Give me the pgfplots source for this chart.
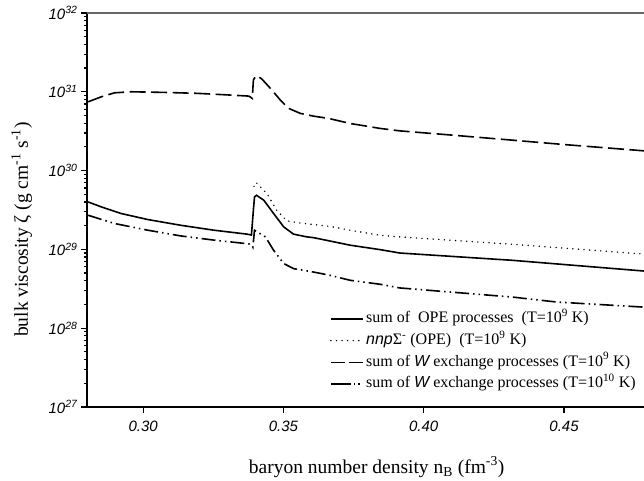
\documentclass[border=0pt]{standalone}
\usepackage{fontspec}
\setmainfont{Liberation Serif}
\setsansfont{Liberation Sans}
\usepackage{pgfplots}
\pgfplotsset{compat=1.18}
\begin{document}
\begin{tikzpicture}
\begin{axis}[
  scale only axis, width=557pt, height=394pt,
  xmin=0.28, xmax=0.4785,
  ymode=log, ymin=1e27, ymax=1e32,
  axis x line*=bottom, axis y line*=left,
  axis line style={line width=1.2pt, black},
  xtick={0.30,0.35,0.40,0.45},
  xticklabels={0.30,0.35,0.40,0.45},
  ytick={1e27,1e28,1e29,1e30,1e31,1e32},
  yticklabels={10\textsuperscript{27},10\textsuperscript{28},10\textsuperscript{29},10\textsuperscript{30},10\textsuperscript{31},10\textsuperscript{32}},
  minor ytick={},
  xtick align=outside, ytick align=outside,
  major tick length=6pt,
  tick style={line width=1.2pt, black},
  ticklabel style={font=\fontsize{15}{15}\selectfont\sffamily\itshape},
  xticklabel style={yshift=-5pt},
  xlabel={baryon number density n\textsubscript{B} (fm\textsuperscript{-3})},
  ylabel={bulk viscosity ζ (g cm\textsuperscript{-1} s\textsuperscript{-1})},
  label style={font=\fontsize{19.5}{19.5}\selectfont},
  xlabel style={at={(axis description cs:0.52,-0.152)}, anchor=center},
  ylabel style={at={(axis description cs:-0.117,0.45)}, anchor=center, rotate=0},
  legend image code/.code={\draw[#1] (0pt,0pt) -- (32pt,0pt);},
  legend style={at={(rel axis cs:0.436,0.245)}, anchor=north west, draw=none, fill=none,
    font=\fontsize{16}{16}\selectfont, row sep=5.2pt, column sep=0pt, inner sep=0pt,
    nodes={inner ysep=1pt, inner xsep=2.5pt, text height=11pt, text depth=3.5pt}},
  legend cell align=left,
  every axis plot/.append style={line width=1.6pt, black},
]
\draw[line width=1.2pt, black!60] (rel axis cs:0,1) -- (rel axis cs:1,1);

% sum of OPE processes (T=1e9 K)
\addplot[solid] coordinates {
(0.2804,4.00e29) (0.2851,3.46e29) (0.2922,2.85e29) (0.3017,2.39e29)
(0.3135,2.02e29) (0.3253,1.75e29) (0.3371,1.56e29) (0.3386,1.52e29)
(0.3393,3.16e29) (0.3397,4.63e29) (0.3404,4.86e29) (0.3430,4.21e29)
(0.3465,2.85e29) (0.3501,1.93e29) (0.3536,1.56e29) (0.3584,1.44e29)
(0.3607,1.41e29) (0.3738,1.13e29) (0.3844,9.93e28) (0.3915,8.99e28)
(0.4317,7.26e28) (0.4785,5.31e28)
};
\addlegendentry{sum of\ \ OPE processes\ \ (T=10\textsuperscript{9} K)}

% nnpSigma- (OPE)
\addplot[line width=1.6pt, line cap=round, dash pattern=on 0pt off 5.6pt] coordinates {
(0.3395,6.30e29) (0.3397,6.86e29) (0.3404,6.98e29) (0.3441,5.12e29)
(0.3476,3.14e29) (0.3512,2.30e29) (0.3560,2.16e29) (0.3666,1.96e29)
(0.3738,1.75e29) (0.3844,1.51e29) (0.3915,1.44e29) (0.4317,1.16e29)
(0.4785,8.71e28)
};
\addlegendentry{{\sffamily\itshape nnp}Σ\textsuperscript{-} (OPE)\ \ (T=10\textsuperscript{9} K)}

% W exchange T=1e9
\addplot[dash pattern=on 16pt off 5.5pt, legend image post style={dash pattern=on 14pt off 4pt}] coordinates {
(0.2804,7.46e30) (0.2851,8.63e30) (0.2898,9.70e30) (0.2957,1.00e31)
(0.3074,9.82e30) (0.3194,9.55e30) (0.3312,9.08e30) (0.3377,8.81e30)
(0.3389,8.24e30) (0.3393,1.41e31) (0.3400,1.55e31) (0.3407,1.60e31)
(0.3424,1.44e31) (0.3454,1.10e31) (0.3489,7.85e30) (0.3519,6.15e30)
(0.3560,5.32e30) (0.3607,4.91e30) (0.3661,4.59e30) (0.3738,3.96e30)
(0.3844,3.43e30) (0.3915,3.19e30) (0.4100,2.82e30) (0.4317,2.43e30)
(0.4500,2.14e30) (0.4785,1.78e30)
};
\addlegendentry{sum of {\sffamily\itshape W} exchange processes (T=10\textsuperscript{9} K)}

% W exchange T=1e10
\addplot[dash pattern=on 14pt off 4pt on 1.5pt off 4pt on 1.5pt off 4pt,
  legend image post style={dash pattern=on 20pt off 3pt on 1.5pt off 3pt on 1.5pt off 3pt}] coordinates {
(0.2804,2.71e29) (0.2898,2.13e29) (0.3017,1.75e29) (0.3135,1.48e29)
(0.3253,1.31e29) (0.3371,1.18e29) (0.3386,1.16e29) (0.3391,1.07e29)
(0.3397,1.75e29) (0.3436,1.44e29) (0.3465,9.73e28) (0.3501,6.61e28)
(0.3536,5.70e28) (0.3607,5.16e28) (0.3666,4.69e28) (0.3738,4.05e28)
(0.3844,3.61e28) (0.3915,3.24e28) (0.4317,2.48e28) (0.4472,2.15e28)
(0.4785,1.85e28)
};
\addlegendentry{sum of {\sffamily\itshape W} exchange processes (T=10\textsuperscript{10} K)}
\end{axis}
\pgfresetboundingbox
\path[use as bounding box] (-87pt,-73pt) rectangle (557pt,407pt);
\end{tikzpicture}
\end{document}
